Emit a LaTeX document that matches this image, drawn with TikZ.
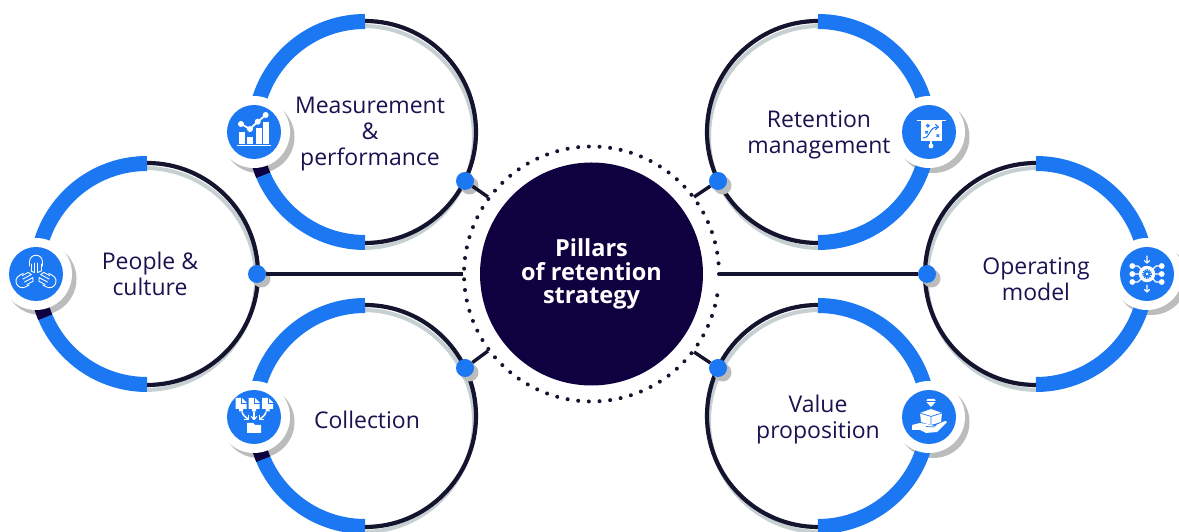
\documentclass[tikz,border=0pt]{standalone}
\usepackage{fontspec}
\setmainfont{Open Sans}
\definecolor{bandblue}{HTML}{1B78F2}
\definecolor{hubnavy}{HTML}{0F003F}
\definecolor{ringdark}{HTML}{14142E}
\definecolor{ringgray}{HTML}{C6CFD2}
\definecolor{shadowgray}{HTML}{BBBDBD}
\definecolor{labelnavy}{HTML}{1C1250}
\tikzset{
  hubnode/.style={circle,fill=hubnavy,minimum size=223pt,inner sep=0pt,text=white,align=center,font=\fontsize{23.5}{23.5}\selectfont\bfseries},
  labelnode/.style={text=labelnavy,align=center,inner sep=0pt,font=\fontsize{23}{26}\selectfont},
  portdot/.style={circle,fill=bandblue,minimum size=18pt,inner sep=0pt},
  iconhalo/.style={circle,fill=white,minimum size=72pt,inner sep=0pt},
  icondisc/.style={circle,fill=bandblue,minimum size=54pt,inner sep=0pt},
  iconshadow/.style={fill=shadowgray},
  linkline/.style={draw=ringdark,line width=3.4pt},
  iconline/.style={draw=white,line width=1.1pt,line cap=round,line join=round},
  iconfill/.style={fill=white,draw=none},
  iconmark/.style={draw=bandblue,line width=1pt,line cap=round},
}
% #1 centre x, #2 centre y, #3 icon x, #4 icon y, #5 name
\newcommand{\ringleft}[5]{
  \draw[ringgray,line width=4pt] (#1-2,#2-5) ++(90:111) arc[start angle=90,end angle=-90,radius=111];
  \draw[ringdark,line width=4.2pt] (#1,#2) ++(90:111) arc[start angle=90,end angle=-90,radius=111];
  \draw[bandblue,line width=15pt] (#1,#2) ++(90:110.5) arc[start angle=90,end angle=270,radius=110.5];
  \fill[iconshadow] (#3+4.5,#4-5) circle[radius=36];
  \draw[hubnavy,line width=15pt] (#1,#2) ++(193:110.5) arc[start angle=193,end angle=203,radius=110.5];
  \node[iconhalo] (#5halo) at (#3,#4) {};
  \node[icondisc] (#5icon) at (#3,#4) {};
}
\newcommand{\ringright}[5]{
  \draw[ringgray,line width=4pt] (#1+2,#2-5) ++(90:111) arc[start angle=90,end angle=270,radius=111];
  \draw[ringdark,line width=4.2pt] (#1,#2) ++(90:111) arc[start angle=90,end angle=270,radius=111];
  \fill[iconshadow] (#3+4.5,#4-5) circle[radius=36];
  \draw[bandblue,line width=15pt] (#1,#2) ++(90:110.5) arc[start angle=90,end angle=-90,radius=110.5];
  \node[iconhalo] (#5halo) at (#3,#4) {};
  \node[icondisc] (#5icon) at (#3,#4) {};
}
\newcommand{\portshadow}[2]{\fill[iconshadow] (#1+4.5,#2-4.5) circle[radius=9];}
\begin{document}
\begin{tikzpicture}[x=1pt,y=1pt]
\useasboundingbox (0,0) rectangle (1179,532);
\fill[white] (0,0) rectangle (1179,532);

\ringleft{365}{400}{254}{400}{meas}
\ringleft{147}{258}{36}{258}{people}
\ringleft{365}{116}{254}{115}{coll}
\ringright{818}{400}{929}{400}{ret}
\ringright{1036}{258}{1147}{258}{oper}
\ringright{818}{116}{929}{115}{val}

% dotted ring
\foreach \a in {0,4.8,...,355} \fill[ringdark] (591.5,258) ++(\a:127.5) circle[radius=2];

% hub
\node[hubnode] (hub) at (591.5,258) {Pillars\\of retention\\strategy};

% port shadows, free ends, connectors, ports
\portshadow{465}{351}\portshadow{257}{258}\portshadow{465}{164}
\portshadow{718}{351}\portshadow{927}{258}\portshadow{718}{164}
\coordinate (endA) at (488,335);
\coordinate (endB) at (463,258);
\coordinate (endC) at (488,181);
\coordinate (endD) at (694,335);
\coordinate (endE) at (720,258);
\coordinate (endF) at (694,180);
\node[portdot] (portA) at (465,351) {};
\node[portdot] (portB) at (257,258) {};
\node[portdot] (portC) at (465,164) {};
\node[portdot] (portD) at (718,351) {};
\node[portdot] (portE) at (927,258) {};
\node[portdot] (portF) at (718,164) {};
\draw[linkline] (portA) -- (endA);
\draw[linkline] (portB) -- (endB);
\draw[linkline] (portC) -- (endC);
\draw[linkline] (portD) -- (endD);
\draw[linkline] (portE) -- (endE);
\draw[linkline] (portF) -- (endF);

% labels
\node[labelnode] (tmeas) at (370,398) {Measurement\\\&\\performance};
\node[labelnode] (tpeople) at (150,258) {People \&\\culture};
\node[labelnode] (tcoll) at (367,112) {Collection};
\node[labelnode] (tret) at (819,397) {Retention\\management};
\node[labelnode] (toper) at (1036,252.5) {Operating\\model};
\node[labelnode] (tval) at (818,112) {Value\\proposition};

% chart icon
\begin{scope}[shift={(254,400)},yscale=-1]
  \fill[iconfill] (-15,0.3) rectangle (-9,12);
  \fill[iconfill] (-7,4.7) rectangle (-1,12);
  \fill[iconfill] (2,-3.7) rectangle (7.7,12);
  \fill[iconfill] (9.3,-10.3) rectangle (15.3,12);
  \fill[iconfill] (-17,13) rectangle (17,14.2);
  \draw[bandblue,line width=4pt] (-13,-8) -- (-4,-3) -- (3.7,-10.3) -- (11.7,-17);
  \draw[iconline,line width=1.8pt] (-13,-8) -- (-4,-3) -- (3.7,-10.3) -- (11.7,-17);
  \foreach \p in {(-13,-8),(-4,-3),(3.7,-10.3),(11.7,-17)} \fill[white] \p circle[radius=3];
\end{scope}

% hands icon
\begin{scope}[shift={(36,258)},yscale=-1]
  \foreach \r/\d in {0/0,118/-3,-118/-3}{
    \begin{scope}[rotate=\r]
      \draw[iconline,line width=0.9pt] (-6.5,-8+\d) -- (-6.5,-12+\d) .. controls (-6.5,-21+\d) and (6.5,-21+\d) .. (6.5,-12+\d) -- (6.5,-8+\d);
      \draw[iconline,line width=0.9pt] (-5,-10+\d) -- (-5,-3+\d) (-1.7,-11+\d) -- (-1.7,-1.5+\d) (1.7,-11+\d) -- (1.7,-1.5+\d) (5,-10+\d) -- (5,-3+\d);
      \draw[iconline,line width=0.9pt] (-5,-3+\d) -- (-1.7,-1.5+\d) (1.7,-1.5+\d) -- (5,-3+\d);
    \end{scope}
  }
\end{scope}

% documents icon
\begin{scope}[shift={(254,115)},yscale=-1]
  \foreach \dx in {-13,0,13.5}{
    \fill[iconfill] (\dx-5.5,-19) -- (\dx+1,-19) -- (\dx+5.5,-14.5) -- (\dx+5.5,-8) -- (\dx+2,-8) -- (\dx+2,-5.5) -- (\dx-2,-5.5) -- (\dx-2,-8) -- (\dx-5.5,-8) -- cycle;
    \draw[bandblue,line width=0.7pt] (\dx+0.5,-19) -- (\dx+0.5,-14) -- (\dx+5.5,-14);
  }
  \draw[iconline,line width=1.5pt] (-12,-5) .. controls (-11,-1) and (-8,0) .. (-6,2);
  \draw[iconline,line width=1.5pt] (0,-5) -- (0,2);
  \draw[iconline,line width=1.5pt] (12,-5) .. controls (11,-1) and (8,0) .. (6,2);
  \draw[iconline,line width=1.2pt] (-9.5,2.5) -- (-5.5,2.5) -- (-5.5,-1.5);
  \draw[iconline,line width=1.2pt] (-2.8,-0.5) -- (0,2.5) -- (2.8,-0.5);
  \draw[iconline,line width=1.2pt] (9.5,2.5) -- (5.5,2.5) -- (5.5,-1.5);
  \fill[iconfill] (-7,6) -- (-1,6) -- (1,8) -- (7,8) -- (7,16) -- (-7,16) -- cycle;
\end{scope}

% board icon
\begin{scope}[shift={(929,400)},yscale=-1]
  \fill[iconfill] (-12,-12) rectangle (16.5,-10.5);
  \fill[iconfill] (-8.5,-10.5) rectangle (13,9.3);
  \draw[iconline] (2,9) -- (2,13);
  \fill[white] (2,14) circle[radius=2.4];
  \draw[iconmark] (-1.2,-6.3) circle[radius=1.3];
  \draw[iconmark] (-3.6,-0.8) -- (-1.4,1.4) (-1.4,-0.8) -- (-3.6,1.4);
  \draw[iconmark] (7.7,2.6) -- (9.9,4.8) (9.9,2.6) -- (7.7,4.8);
  \draw[iconmark] (-6,6) .. controls (2,6) and (-1,-5) .. (9,-5);
  \draw[iconmark] (6.5,-7.5) -- (9.5,-5) -- (6.5,-2.5);
\end{scope}

% network icon
\begin{scope}[shift={(1147,258)},yscale=-1]
  \foreach \dy in {-8,0,8}{
    \fill[white] (-14.7,\dy) circle[radius=2.9];
    \fill[white] (14.7,\dy) circle[radius=2.9];
  }
  \draw[iconline] (-14.7,-8) -- (-9,-8) -- (-6,-5) (-14.7,0) -- (-7,0) (-14.7,8) -- (-9,8) -- (-6,5);
  \draw[iconline] (14.7,-8) -- (9,-8) -- (6,-5) (14.7,0) -- (7,0) (14.7,8) -- (9,8) -- (6,5);
  \fill[white] (0,0) circle[radius=8.2];
  \draw[bandblue,line width=1.6pt,dash pattern=on 1.2pt off 0.9pt] (0,0) circle[radius=4.2];
  \fill[bandblue] (0,0) circle[radius=3.4];
  \fill[white] (0,0) circle[radius=1.5];
  \draw[iconline] (0,-18) -- (0,-11) (-2.6,-13.4) -- (0,-11) -- (2.6,-13.4);
  \draw[iconline] (0,11) -- (0,18) (-2.6,15.4) -- (0,18) -- (2.6,15.4);
\end{scope}

% gift icon
\begin{scope}[shift={(929,115)},yscale=-1]
  \fill[iconfill] (-1.5,-18) -- (5.5,-18) -- (7,-15.5) -- (2,-10) -- (-3,-15.5) -- cycle;
  \draw[bandblue,line width=0.6pt] (-3,-15.5) -- (7,-15.5);
  \fill[iconfill] (-9,-4) -- (2,-8) -- (13,-4) -- (12,5) -- (2,8) -- (-8,5) -- cycle;
  \draw[bandblue,line width=0.7pt] (-9,-4) -- (2,-0.5) -- (13,-4) (2,-0.5) -- (2,8);
  \fill[iconfill] (-17,8) -- (-9,6) -- (-2,7) -- (5,9) -- (16,4) -- (18,5) -- (8,15) -- (-3,16) -- (-9,13) -- (-17,13) -- cycle;
  \draw[bandblue,line width=0.7pt] (-3,9.5) -- (5,10) -- (7,8);
\end{scope}
\end{tikzpicture}
\end{document}
